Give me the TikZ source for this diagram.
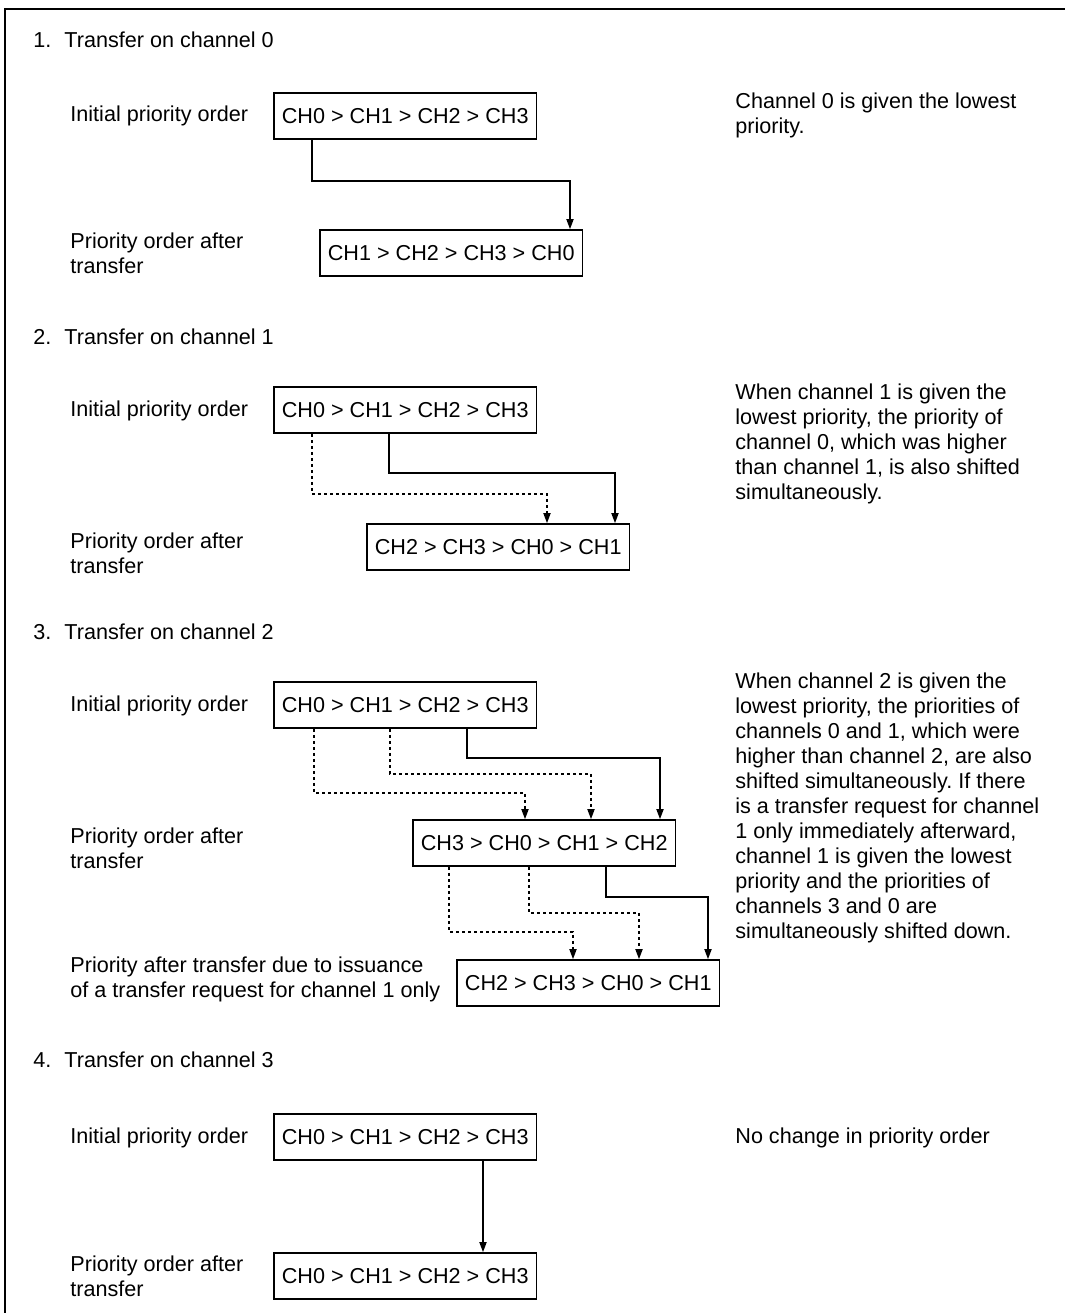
\documentclass[tikz,border=0pt]{standalone}
\usepackage{fontspec}
\setmainfont{Liberation Sans}
\usetikzlibrary{arrows.meta,calc}
\frenchspacing

\begin{document}
\begin{tikzpicture}[x=0.5pt,y=-0.5pt,
    every node/.style={font=\fontsize{10.8}{12.5}\selectfont},
    order/.style={draw,line width=0.9pt,anchor=west,inner xsep=4pt,minimum height=23pt},
    lab/.style={anchor=west,align=left,inner sep=0pt},
    solidarr/.style={line width=0.6pt,-{Triangle[length=5pt,width=3.6pt]}},
    dotarr/.style={solidarr,dash pattern=on 1.5pt off 1.5pt}]
    \useasboundingbox (0,0) rectangle (1065,1313);
    \draw[line width=1pt] (5,1313) -- (5,9) -- (1065,9);

    % 1. channel 0
    \node[lab] (head1) at (33,40) {1.\hspace{6.5pt}Transfer on channel 0};
    \node[lab] (lab1a) at (70,116) {Initial priority order};
    \node[order] (ord1a) at (273,116) {CH0 > CH1 > CH2 > CH3};
    \node[lab] (lab1b) at (70,253) {Priority order after\\transfer};
    \node[order] (ord1b) at (319,253) {CH1 > CH2 > CH3 > CH0};
    \node[lab] (note1) at (735,115) {Channel 0 is given the lowest\\priority.};
    \draw[solidarr] ($(ord1a.south west)+(39,0)$) -- ++(0,41) -| ($(ord1b.north west)+(251,0)$);

    % 2. channel 1
    \node[lab] (head2) at (33,337) {2.\hspace{6.5pt}Transfer on channel 1};
    \node[lab] (lab2a) at (70,411) {Initial priority order};
    \node[order] (ord2a) at (273,410) {CH0 > CH1 > CH2 > CH3};
    \node[lab] (lab2b) at (70,553) {Priority order after\\transfer};
    \node[order] (ord2b) at (366,547) {CH2 > CH3 > CH0 > CH1};
    \node[lab] (note2) at (735,444) {When channel 1 is given the\\lowest priority, the priority of\\channel 0, which was higher\\than channel 1, is also shifted\\simultaneously.};
    \draw[dotarr] ($(ord2a.south west)+(39,0)$) -- ++(0,60) -| ($(ord2b.north west)+(181,0)$);
    \draw[solidarr] ($(ord2a.south west)+(116,0)$) -- ++(0,39) -| ($(ord2b.north west)+(249,0)$);

    % 3. channel 2
    \node[lab] (head3) at (33,632) {3.\hspace{6.5pt}Transfer on channel 2};
    \node[lab] (lab3a) at (70,706) {Initial priority order};
    \node[order] (ord3a) at (273,705) {CH0 > CH1 > CH2 > CH3};
    \node[lab] (lab3b) at (70,848) {Priority order after\\transfer};
    \node[order] (ord3b) at (412,843) {CH3 > CH0 > CH1 > CH2};
    \node[lab] (lab3c) at (70,979) {Priority after transfer due to issuance\\of a transfer request for channel 1 only};
    \node[order] (ord3c) at (456,983) {CH2 > CH3 > CH0 > CH1};
    \node[lab] (note3) at (735,808) {When channel 2 is given the\\lowest priority, the priorities of\\channels 0 and 1, which were\\higher than channel 2, are also\\shifted simultaneously. If there\\is a transfer request for channel\\1 only immediately afterward,\\channel 1 is given the lowest\\priority and the priorities of\\channels 3 and 0 are\\simultaneously shifted down.};
    \draw[dotarr] ($(ord3a.south west)+(41,0)$) -- ++(0,64) -| ($(ord3b.north west)+(113,0)$);
    \draw[dotarr] ($(ord3a.south west)+(117,0)$) -- ++(0,45) -| ($(ord3b.north west)+(179,0)$);
    \draw[solidarr] ($(ord3a.south west)+(194,0)$) -- ++(0,29) -| ($(ord3b.north west)+(248,0)$);
    \draw[dotarr] ($(ord3b.south west)+(37,0)$) -- ++(0,65) -| ($(ord3c.north west)+(117,0)$);
    \draw[dotarr] ($(ord3b.south west)+(117,0)$) -- ++(0,46) -| ($(ord3c.north west)+(183,0)$);
    \draw[solidarr] ($(ord3b.south west)+(194,0)$) -- ++(0,30) -| ($(ord3c.north west)+(252,0)$);

    % 4. channel 3
    \node[lab] (head4) at (33,1060) {4.\hspace{6.5pt}Transfer on channel 3};
    \node[lab] (lab4a) at (70,1138) {Initial priority order};
    \node[order] (ord4a) at (273,1137) {CH0 > CH1 > CH2 > CH3};
    \node[lab] (lab4b) at (70,1276) {Priority order after\\transfer};
    \node[order] (ord4b) at (273,1276) {CH0 > CH1 > CH2 > CH3};
    \node[lab] (note4) at (735,1138) {No change in priority order};
    \draw[solidarr] ($(ord4a.south west)+(210,0)$) -- ($(ord4b.north west)+(210,0)$);
\end{tikzpicture}
\end{document}
